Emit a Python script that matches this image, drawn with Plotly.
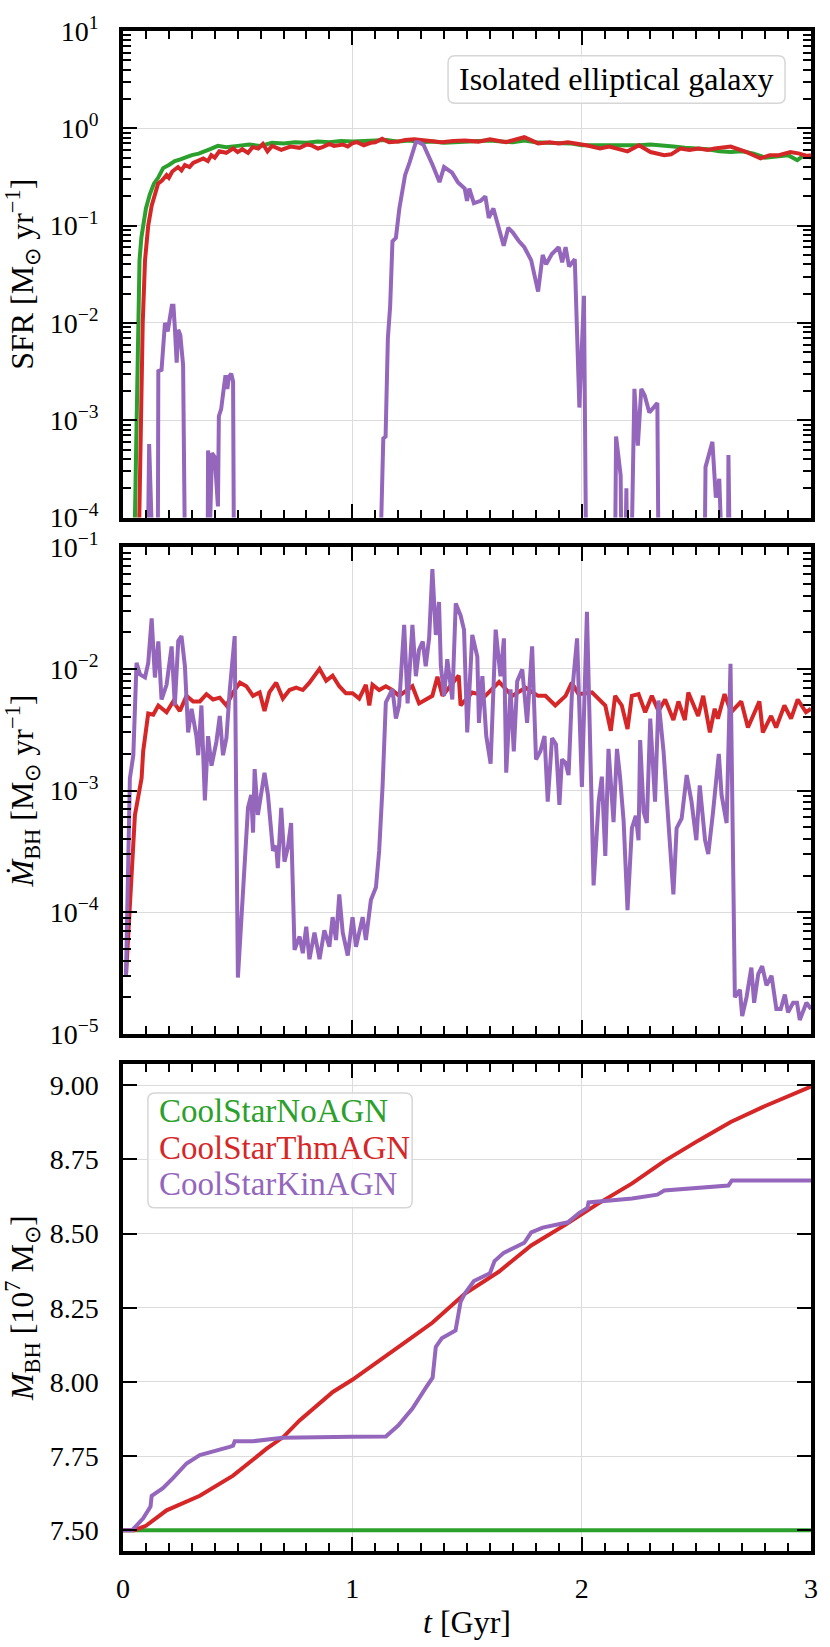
import plotly.graph_objects as go
from plotly.subplots import make_subplots

# ---- data (t in Gyr) ----
BELOW = 1e-6  # value used where a curve drops under the plotted range

# star formation rate [Msun/yr]
sfr_no_t = [0.0, 0.045, 0.052, 0.060, 0.067, 0.072, 0.080, 0.088, 0.100, 0.117, 0.135, 0.153, 0.175,
            0.20, 0.226, 0.25, 0.277, 0.30, 0.33, 0.35, 0.38, 0.414, 0.45, 0.50, 0.55, 0.60, 0.65,
            0.70, 0.75, 0.80, 0.85, 0.90, 0.95, 1.00, 1.05, 1.10, 1.15, 1.20, 1.25, 1.30, 1.35,
            1.40, 1.45, 1.50, 1.55, 1.60, 1.65, 1.70, 1.75, 1.80, 1.85, 1.90, 1.95, 2.00, 2.05,
            2.10, 2.15, 2.20, 2.25, 2.30, 2.35, 2.40, 2.45, 2.50, 2.55, 2.60, 2.65, 2.70, 2.75,
            2.80, 2.85, 2.90, 2.94, 2.97, 3.00]
sfr_no_v = [BELOW, 1e-5, 1e-4, 1e-3, 1e-2, 0.044, 0.075, 0.10, 0.15, 0.21, 0.27, 0.31, 0.39,
            0.42, 0.46, 0.48, 0.51, 0.53, 0.55, 0.57, 0.61, 0.66, 0.64, 0.66, 0.68, 0.66, 0.71,
            0.70, 0.72, 0.71, 0.73, 0.72, 0.74, 0.73, 0.74, 0.75, 0.76, 0.73, 0.75, 0.72, 0.73,
            0.71, 0.72, 0.72, 0.74, 0.75, 0.73, 0.72, 0.75, 0.72, 0.71, 0.71, 0.70, 0.67, 0.67,
            0.66, 0.67, 0.66, 0.67, 0.68, 0.67, 0.65, 0.63, 0.62, 0.61, 0.58, 0.57, 0.58, 0.55,
            0.50, 0.52, 0.53, 0.47, 0.53, 0.50]

sfr_thm_t = [0.0, 0.065, 0.071, 0.077, 0.086, 0.096, 0.110, 0.125, 0.139, 0.153, 0.17, 0.19, 0.20,
             0.215, 0.24, 0.255, 0.27, 0.29, 0.306, 0.33, 0.35, 0.37, 0.385, 0.40, 0.42, 0.45, 0.48,
             0.50, 0.52, 0.545, 0.565, 0.59, 0.61, 0.63, 0.65, 0.69, 0.71, 0.73, 0.77, 0.80, 0.82,
             0.85, 0.87, 0.90, 0.92, 0.96, 0.98, 1.00, 1.02, 1.05, 1.08, 1.10, 1.13, 1.16, 1.20,
             1.23, 1.27, 1.33, 1.39, 1.44, 1.49, 1.55, 1.60, 1.67, 1.71, 1.75, 1.81, 1.86, 1.90,
             1.94, 2.02, 2.08, 2.12, 2.16, 2.20, 2.25, 2.30, 2.36, 2.39, 2.43, 2.47, 2.51, 2.55,
             2.58, 2.62, 2.65, 2.72, 2.78, 2.82, 2.86, 2.91, 2.95, 2.98, 3.00]
sfr_thm_v = [BELOW, 1e-5, 1e-4, 1e-3, 1e-2, 0.044, 0.10, 0.16, 0.21, 0.27, 0.29, 0.33, 0.31,
             0.36, 0.40, 0.37, 0.42, 0.40, 0.44, 0.47, 0.49, 0.46, 0.53, 0.50, 0.58, 0.56, 0.62,
             0.57, 0.61, 0.56, 0.64, 0.62, 0.69, 0.58, 0.66, 0.60, 0.63, 0.65, 0.63, 0.68, 0.67,
             0.62, 0.64, 0.69, 0.66, 0.68, 0.65, 0.70, 0.72, 0.67, 0.71, 0.72, 0.78, 0.72, 0.73,
             0.76, 0.77, 0.75, 0.72, 0.74, 0.75, 0.73, 0.77, 0.72, 0.76, 0.81, 0.70, 0.72, 0.70,
             0.72, 0.67, 0.62, 0.65, 0.62, 0.58, 0.67, 0.57, 0.53, 0.54, 0.62, 0.60, 0.62, 0.60,
             0.62, 0.64, 0.65, 0.57, 0.49, 0.53, 0.53, 0.57, 0.55, 0.52, 0.53]

sfr_kin_t = [0.0, 0.100, 0.114, 0.132, 0.150, 0.154, 0.168, 0.183, 0.195, 0.213, 0.220, 0.226,
             0.234, 0.241, 0.250, 0.262, 0.277, 0.366, 0.371, 0.377, 0.388, 0.400, 0.414, 0.418,
             0.428, 0.439, 0.447, 0.455, 0.462, 0.472, 0.480, 0.487, 1.105, 1.135, 1.145, 1.155,
             1.165, 1.175, 1.19, 1.205, 1.23, 1.25, 1.277, 1.29, 1.31, 1.35, 1.38, 1.40, 1.435,
             1.46, 1.49, 1.50, 1.51, 1.53, 1.56, 1.58, 1.595, 1.615, 1.635, 1.66, 1.68, 1.70,
             1.725, 1.75, 1.78, 1.81, 1.83, 1.845, 1.87, 1.90, 1.915, 1.93, 1.945, 1.97, 1.99,
             2.01, 2.025, 2.14, 2.15, 2.17, 2.18, 2.195, 2.205, 2.23, 2.245, 2.26, 2.275, 2.295,
             2.33, 2.34, 2.53, 2.54, 2.57, 2.585, 2.60, 2.615, 2.635, 2.64, 2.655, 3.00]
sfr_kin_v = [BELOW, BELOW, 5.7e-4, BELOW, BELOW, 3.2e-3, 3.3e-3, 1.0e-2, 8.2e-3, 1.5e-2, 1.5e-2, 9e-3,
             3.9e-3, 8.5e-3, 7.5e-3, 3.7e-3, BELOW, BELOW, 4.9e-4, 5e-5, 4.6e-4, 4.2e-4, 1.3e-4, 1.1e-3,
             1.3e-3, 2.1e-3, 2.9e-3, 2.1e-3, 2.8e-3, 3.0e-3, 2.5e-3, BELOW, BELOW, 6.5e-4, 6.8e-4, 7e-3,
             1.5e-2, 0.069, 0.075, 0.15, 0.33, 0.45, 0.72, 0.72, 0.68, 0.42, 0.28, 0.40, 0.35,
             0.28, 0.24, 0.18, 0.24, 0.17, 0.18, 0.20, 0.12, 0.15, 0.10, 0.062, 0.095, 0.085,
             0.07, 0.06, 0.044, 0.021, 0.05, 0.040, 0.051, 0.06, 0.042, 0.06, 0.038, 0.045, 1.35e-3,
             0.019, BELOW, BELOW, 6.8e-4, 2.7e-4, BELOW, 2e-4, BELOW, 2.1e-3, 5.5e-4, 2.1e-3, 1.8e-3, 1.2e-3,
             1.5e-3, BELOW, BELOW, 3.3e-4, 6e-4, 1.6e-4, 2.5e-4, BELOW, BELOW, 4.4e-4, BELOW, BELOW]

# black hole accretion rate [Msun/yr]
acc_thm_t = [0.013, 0.052, 0.081, 0.088, 0.110, 0.132, 0.154, 0.190, 0.219, 0.248, 0.277, 0.306,
             0.335, 0.364, 0.393, 0.422, 0.451, 0.48, 0.51, 0.538, 0.567, 0.596, 0.617, 0.638,
             0.668, 0.697, 0.726, 0.755, 0.784, 0.813, 0.857, 0.886, 0.914, 0.943, 0.972, 1.001,
             1.03, 1.059, 1.074, 1.088, 1.117, 1.146, 1.175, 1.204, 1.262, 1.291, 1.349, 1.371,
             1.393, 1.464, 1.472, 1.523, 1.58, 1.64, 1.697, 1.755, 1.81, 1.842, 1.885, 1.93,
             1.957, 1.986, 2.045, 2.074, 2.103, 2.127, 2.146, 2.175, 2.2, 2.219, 2.248, 2.277,
             2.306, 2.335, 2.364, 2.40, 2.422, 2.45, 2.465, 2.508, 2.53, 2.559, 2.58, 2.594,
             2.623, 2.652, 2.696, 2.725, 2.775, 2.79, 2.826, 2.848, 2.884, 2.913, 2.942, 2.978, 3.0]
acc_thm_v = [3.0e-5, 6.3e-4, 1.26e-3, 2.1e-3, 4.3e-3, 4.2e-3, 5.0e-3, 4.4e-3, 5.4e-3, 4.5e-3, 6.0e-3, 5.4e-3,
             5.4e-3, 6.2e-3, 5.6e-3, 5.8e-3, 5.0e-3, 6.4e-3, 7.7e-3, 7.2e-3, 6.0e-3, 6.4e-3, 4.5e-3, 6.4e-3,
             7.7e-3, 5.7e-3, 6.7e-3, 7.0e-3, 6.7e-3, 7.7e-3, 1.0e-2, 8.0e-3, 8.8e-3, 7.2e-3, 6.3e-3, 6.3e-3,
             5.7e-3, 7.4e-3, 5.0e-3, 7.4e-3, 6.7e-3, 7.2e-3, 6.7e-3, 6.0e-3, 7.2e-3, 5.2e-3, 6.0e-3, 8.6e-3,
             6.0e-3, 8.8e-3, 5.0e-3, 6.4e-3, 6.0e-3, 7.8e-3, 6.0e-3, 7.0e-3, 6.0e-3, 6.0e-3, 5.0e-3, 6.0e-3,
             7.7e-3, 6.2e-3, 6.4e-3, 5.6e-3, 5.0e-3, 3.1e-3, 6.0e-3, 5.0e-3, 3.2e-3, 6.0e-3, 6.2e-3, 4.4e-3,
             6.0e-3, 4.5e-3, 5.6e-3, 3.8e-3, 5.4e-3, 3.8e-3, 6.4e-3, 4.1e-3, 6.0e-3, 3.0e-3, 4.7e-3, 3.9e-3,
             6.2e-3, 4.4e-3, 5.4e-3, 3.3e-3, 5.4e-3, 3.0e-3, 4.1e-3, 3.3e-3, 5.0e-3, 3.9e-3, 5.6e-3, 4.4e-3, 4.7e-3]

acc_kin_t = [0.013, 0.030, 0.045, 0.059, 0.074, 0.096, 0.110, 0.125, 0.139, 0.154, 0.168, 0.190,
             0.212, 0.226, 0.241, 0.255, 0.270, 0.284, 0.299, 0.320, 0.328, 0.342, 0.357, 0.371,
             0.386, 0.407, 0.422, 0.436, 0.451, 0.465, 0.487, 0.501, 0.545, 0.559, 0.567, 0.574,
             0.588, 0.603, 0.617, 0.632, 0.654, 0.668, 0.675, 0.690, 0.704, 0.719, 0.733, 0.748,
             0.770, 0.784, 0.799, 0.813, 0.835, 0.857, 0.878, 0.900, 0.914, 0.929, 0.943, 0.958,
             0.980, 1.001, 1.016, 1.045, 1.059, 1.081, 1.103, 1.117, 1.132, 1.146, 1.161, 1.175,
             1.190, 1.204, 1.226, 1.241, 1.262, 1.277, 1.291, 1.307, 1.320, 1.335, 1.349, 1.364,
             1.378, 1.386, 1.400, 1.414, 1.436, 1.451, 1.472, 1.487, 1.501, 1.523, 1.545, 1.552,
             1.567, 1.584, 1.603, 1.625, 1.646, 1.661, 1.671, 1.690, 1.704, 1.719, 1.741, 1.762,
             1.784, 1.801, 1.820, 1.838, 1.852, 1.871, 1.888, 1.903, 1.914, 1.929, 1.943, 1.957,
             1.980, 2.001, 2.023, 2.038, 2.052, 2.074, 2.088, 2.103, 2.117, 2.139, 2.154, 2.167,
             2.183, 2.200, 2.219, 2.236, 2.248, 2.255, 2.270, 2.284, 2.299, 2.320, 2.335, 2.357,
             2.378, 2.400, 2.414, 2.436, 2.458, 2.479, 2.500, 2.515, 2.538, 2.552, 2.573, 2.598,
             2.610, 2.632, 2.649, 2.668, 2.690, 2.700, 2.719, 2.740, 2.752, 2.770, 2.787, 2.806,
             2.828, 2.849, 2.868, 2.886, 2.900, 2.922, 2.939, 2.951, 2.980, 3.0]
acc_kin_v = [3.0e-5, 1.26e-3, 1.95e-3, 1.12e-2, 9.0e-3, 8.5e-3, 1.12e-2, 2.6e-2, 8.5e-3, 1.68e-2, 5.6e-3, 7.4e-3,
             1.53e-2, 5.0e-3, 1.7e-2, 1.86e-2, 1.05e-2, 3.0e-3, 4.7e-3, 2.8e-3, 1.95e-3, 5.0e-3, 8.3e-4, 2.8e-3,
             1.6e-3, 2.5e-3, 4.1e-3, 1.95e-3, 2.7e-3, 6.5e-3, 1.86e-2, 2.9e-5, 7.2e-4, 9.2e-4, 4.5e-4, 1.5e-3,
             6.3e-4, 9.2e-4, 1.4e-3, 9.2e-4, 3.2e-4, 3.5e-4, 2.3e-4, 7.2e-4, 2.6e-4, 3.4e-4, 5.4e-4, 4.9e-5,
             6.3e-5, 4.6e-5, 7.6e-5, 4.1e-5, 6.8e-5, 4.1e-5, 7.1e-5, 5.2e-5, 9.1e-5, 5.9e-5, 1.4e-4, 6.8e-5,
             4.4e-5, 9.1e-5, 5.2e-5, 9.1e-5, 5.9e-5, 1.26e-4, 1.6e-4, 3.2e-4, 1.1e-3, 5.3e-3, 6.0e-3, 6.8e-3,
             3.9e-3, 5.0e-3, 2.3e-2, 5.2e-3, 2.3e-2, 8.7e-3, 1.44e-2, 1.68e-2, 1.05e-2, 1.8e-2, 6.6e-2, 1.9e-2,
             3.55e-2, 1.05e-2, 6.0e-3, 1.2e-2, 5.6e-3, 3.45e-2, 2.75e-2, 2.1e-2, 3.0e-3, 1.9e-2, 1.26e-2, 3.6e-3,
             8.7e-3, 2.8e-3, 1.66e-3, 2.1e-2, 8.7e-3, 1.78e-2, 1.4e-3, 6.8e-3, 2.1e-3, 7.9e-3, 9.9e-3, 3.6e-3,
             1.53e-2, 1.8e-3, 2.1e-3, 2.8e-3, 8.1e-4, 2.7e-3, 2.4e-3, 7.6e-4, 1.8e-3, 1.7e-3, 1.34e-3, 6.0e-3,
             1.78e-2, 1.07e-3, 2.95e-2, 2.1e-3, 1.66e-4, 8.1e-4, 1.3e-3, 2.9e-4, 2.2e-3, 5.5e-4, 2.2e-3, 1.31e-3,
             5.6e-4, 1.04e-4, 4.9e-4, 6.2e-4, 3.9e-4, 2.6e-3, 6.7e-4, 5.4e-4, 3.9e-3, 8.1e-4, 5.5e-3, 2.1e-3,
             6.3e-4, 1.4e-4, 4.9e-4, 5.9e-4, 1.34e-3, 8.1e-4, 3.9e-4, 1.1e-3, 3.9e-4, 3.0e-4, 6.7e-4, 2.0e-3,
             9.2e-4, 5.4e-4, 1.1e-2, 2.0e-5, 2.3e-5, 1.4e-5, 2.0e-5, 3.5e-5, 1.8e-5, 3.1e-5, 3.6e-5, 2.5e-5,
             3.0e-5, 1.6e-5, 1.6e-5, 2.1e-5, 1.5e-5, 1.8e-5, 1.8e-5, 1.3e-5, 1.8e-5, 1.6e-5]

# black hole mass [1e7 Msun]
mbh_no_t = [0.0, 1.0, 2.0, 3.0]
mbh_no_v = [7.50, 7.50, 7.50, 7.50]

mbh_thm_t = [0.0, 0.05, 0.10, 0.19, 0.335, 0.48, 0.625, 0.70, 0.77, 0.915, 1.0, 1.13, 1.2, 1.26,
             1.35, 1.49, 1.64, 1.78, 1.93, 2.0, 2.07, 2.22, 2.36, 2.51, 2.65, 2.80, 3.0]
mbh_thm_v = [7.50, 7.50, 7.515, 7.567, 7.616, 7.684, 7.774, 7.815, 7.87, 7.966, 8.007, 8.077, 8.118, 8.15,
             8.20, 8.297, 8.372, 8.46, 8.53, 8.566, 8.60, 8.669, 8.744, 8.814, 8.876, 8.93, 8.995]

mbh_kin_t = [0.0, 0.04, 0.088, 0.12, 0.125, 0.174, 0.22, 0.255, 0.277, 0.335, 0.407, 0.465, 0.48, 0.487,
             0.567, 0.697, 1.0, 1.146, 1.2, 1.262, 1.32, 1.35, 1.364, 1.39, 1.45, 1.472, 1.49, 1.53,
             1.6, 1.62, 1.66, 1.75, 1.78, 1.83, 1.94, 1.99, 2.025, 2.03, 2.22, 2.33, 2.36, 2.64, 2.655, 3.0]
mbh_kin_v = [7.50, 7.50, 7.54, 7.58, 7.616, 7.642, 7.677, 7.705, 7.725, 7.753, 7.767, 7.781, 7.785, 7.80,
             7.80, 7.812, 7.815, 7.816, 7.853, 7.91, 7.98, 8.014, 8.118, 8.147, 8.173, 8.27, 8.297, 8.34,
             8.366, 8.407, 8.435, 8.469, 8.504, 8.52, 8.538, 8.57, 8.586, 8.605, 8.618, 8.631, 8.645, 8.662, 8.679, 8.679]

names = ["CoolStarNoAGN", "CoolStarThmAGN", "CoolStarKinAGN"]
colors = ["#2ca02c", "#d62728", "#9467bd"]

# ---- figure geometry (pixels) ----
W, H = 830, 1647
L, R, T, B = 123, 17, 21, 89
FONT = "Liberation Serif, Times New Roman, serif"


def px(x, y):
    # figure pixel -> paper coordinates
    return (x - L) / (W - L - R), (H - B - y) / (H - T - B)


def dom(y_top, y_bot):
    return [px(0, y_bot)[1], px(0, y_top)[1]]


def rounded_box(x0, y0, x1, y1, r):
    pts = [(x0 + r, y0), (x1 - r, y0), (x1, y0), (x1, y0 + r), (x1, y1 - r), (x1, y1),
           (x1 - r, y1), (x0 + r, y1), (x0, y1), (x0, y1 - r), (x0, y0 + r), (x0, y0), (x0 + r, y0)]
    p = [px(*q) for q in pts]
    s = "M {0[0]},{0[1]} L {1[0]},{1[1]} Q {2[0]},{2[1]} {3[0]},{3[1]} L {4[0]},{4[1]} " \
        "Q {5[0]},{5[1]} {6[0]},{6[1]} L {7[0]},{7[1]} Q {8[0]},{8[1]} {9[0]},{9[1]} " \
        "L {10[0]},{10[1]} Q {11[0]},{11[1]} {12[0]},{12[1]} Z".format(*p)
    return s


fig = make_subplots(rows=3, cols=1, shared_xaxes=True)

panels = [
    (1, [sfr_no_t, sfr_thm_t, sfr_kin_t], [sfr_no_v, sfr_thm_v, sfr_kin_v], [0, 1, 2]),
    (2, [acc_thm_t, acc_kin_t], [acc_thm_v, acc_kin_v], [1, 2]),
    (3, [mbh_no_t, mbh_thm_t, mbh_kin_t], [mbh_no_v, mbh_thm_v, mbh_kin_v], [0, 1, 2]),
]
for row, ts, vs, idx in panels:
    for t, v, i in zip(ts, vs, idx):
        fig.add_trace(go.Scatter(x=t, y=v, mode="lines", name=names[i],
                                 line=dict(color=colors[i], width=4), showlegend=False),
                      row=row, col=1)

axis_common = dict(showline=True, linecolor="black", linewidth=3.5, mirror="allticks",
                   ticks="inside", ticklen=14, tickwidth=2.4, tickcolor="black",
                   showgrid=True, gridcolor="#dcdcdc", gridwidth=1, zeroline=False,
                   tickfont=dict(family=FONT, size=28, color="black"))

for r in (1, 2, 3):
    fig.update_xaxes(range=[0, 3], tickvals=[0, 1, 2, 3], ticktext=["0", "1", "2", "3"],
                     showticklabels=(r == 3), ticklabelstandoff=10,
                     minor=dict(ticks="inside", dtick=0.1, tick0=0, ticklen=8, tickwidth=2.2,
                                tickcolor="black", showgrid=False),
                     row=r, col=1, **axis_common)

fig.update_xaxes(title=dict(text="<i>t</i> [Gyr]", font=dict(family=FONT, size=32, color="black"),
                            standoff=8), row=3, col=1)

minor_log = lambda lo, hi: [k * 10.0 ** e for e in range(lo, hi) for k in range(2, 10)]

fig.update_yaxes(type="log", range=[-4, 1], tickvals=[1e-4, 1e-3, 1e-2, 1e-1, 1, 10],
                 ticktext=["10<sup>−4</sup>", "10<sup>−3</sup>", "10<sup>−2</sup>",
                           "10<sup>−1</sup>", "10<sup>0</sup>", "10<sup>1</sup>"],
                 minor=dict(ticks="inside", tickvals=minor_log(-4, 1), ticklen=8, tickwidth=2.2,
                            tickcolor="black", showgrid=False),
                 title=dict(text="SFR [M<sub>⊙</sub> yr<sup>−1</sup>]",
                            font=dict(family=FONT, size=32, color="black"), standoff=10),
                 ticklabelstandoff=15, domain=dom(21, 513), row=1, col=1, **axis_common)

fig.update_yaxes(type="log", range=[-5, -1], tickvals=[1e-5, 1e-4, 1e-3, 1e-2, 1e-1],
                 ticktext=["10<sup>−5</sup>", "10<sup>−4</sup>", "10<sup>−3</sup>",
                           "10<sup>−2</sup>", "10<sup>−1</sup>"],
                 minor=dict(ticks="inside", tickvals=minor_log(-5, -1), ticklen=8, tickwidth=2.2,
                            tickcolor="black", showgrid=False),
                 title=dict(text="<i>Ṁ</i><sub>BH</sub> [M<sub>⊙</sub> yr<sup>−1</sup>]",
                            font=dict(family=FONT, size=32, color="black"), standoff=10),
                 ticklabelstandoff=15, domain=dom(543, 1035), row=2, col=1, **axis_common)

fig.update_yaxes(range=[7.43, 9.07], tickvals=[7.5, 7.75, 8.0, 8.25, 8.5, 8.75, 9.0],
                 ticktext=["7.50", "7.75", "8.00", "8.25", "8.50", "8.75", "9.00"],
                 title=dict(text="<i>M</i><sub>BH</sub> [10<sup>7</sup> M<sub>⊙</sub>]",
                            font=dict(family=FONT, size=32, color="black"), standoff=10),
                 ticklabelstandoff=15, domain=dom(1066, 1558), row=3, col=1, **axis_common)

# text boxes
box_line = dict(color="#d6d6d6", width=1.5)
shapes = [
    dict(type="path", xref="paper", yref="paper", path=rounded_box(449, 46, 787, 94, 7),
         line=box_line, fillcolor="rgba(255,255,255,0.8)", layer="above"),
    dict(type="path", xref="paper", yref="paper", path=rounded_box(148, 1095, 413, 1211, 7),
         line=box_line, fillcolor="rgba(255,255,255,0.8)", layer="above"),
]

annotations = []
ax, ay = px(618, 70)
annotations.append(dict(x=ax, y=ay, xref="paper", yref="paper", text="Isolated elliptical galaxy",
                        showarrow=False, xanchor="center", yanchor="middle",
                        font=dict(family=FONT, size=32, color="black")))
for name, col, yy in zip(names, colors, [1113, 1150, 1187]):
    lx, ly = px(157, yy)
    annotations.append(dict(x=lx, y=ly, xref="paper", yref="paper", text=name, showarrow=False,
                            xanchor="left", yanchor="middle",
                            font=dict(family=FONT, size=33, color=col)))

fig.update_layout(width=W, height=H, margin=dict(l=L, r=R, t=T, b=B),
                  plot_bgcolor="white", paper_bgcolor="white",
                  font=dict(family=FONT, size=28, color="black"),
                  shapes=shapes, annotations=annotations, showlegend=False)

# page body margin would push the 830x1647 figure out of the window
fig.write_html("out.html", config={"displayModeBar": False},
               post_script="document.body.style.margin='0';document.body.style.overflow='hidden';")
